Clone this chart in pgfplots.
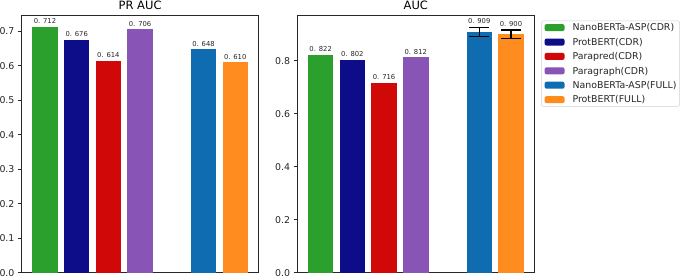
\documentclass[border=0pt]{standalone}
\usepackage{fontspec}
\setmainfont{DejaVu Sans}
\usepackage{pgfplots}
\usepackage{pgfplotstable}
\pgfplotsset{compat=1.18}
\definecolor{cgreen}{RGB}{44,160,44}
\definecolor{cnavy}{RGB}{13,13,138}
\definecolor{cred}{RGB}{208,8,8}
\definecolor{cpurple}{RGB}{136,84,182}
\definecolor{cblue}{RGB}{16,108,176}
\definecolor{corange}{RGB}{255,140,30}
\definecolor{cframe}{RGB}{40,40,40}

\pgfplotstableread[col sep=comma]{
x,y,e,lab
0,0.712,0,0. 712
1,0.676,0,0. 676
2,0.614,0,0. 614
3,0.706,0,0. 706
5,0.648,0,0. 648
6,0.610,0,0. 610
}\prauc
\pgfplotstableread[col sep=comma]{
x,y,e,lab
0,0.822,0,0. 822
1,0.802,0,0. 802
2,0.716,0,0. 716
3,0.812,0,0. 812
5,0.909,0.017,0. 909
6,0.900,0.016,0. 900
}\auc

\pgfplotsset{
  mybase/.style={
    scale only axis, width=237.2pt, height=257.7pt,
    xmin=-0.74, xmax=6.74, ymin=0,
    xtick=\empty,
    ytick pos=left,
    tick align=outside,
    major tick length=3.5pt,
    axis line style={cframe, line width=0.8pt},
    tick style={cframe, line width=0.8pt},
    /pgf/number format/assume math mode=true,
    yticklabel style={font=\fontsize{9.4}{11}\selectfont, text=black!85,
      /pgf/number format/.cd, fixed, fixed zerofill, precision=1},
    every axis title/.style={font=\fontsize{11.5}{13}\selectfont, at={(0.5,1)}, anchor=base, yshift=5.7pt, inner sep=0pt},
    every axis plot/.append style={ybar, bar width=25.4pt, bar shift=0pt, draw=none,
      point meta=explicit symbolic,
      nodes near coords,
      nodes near coords style={font=\fontsize{6.8}{8}\selectfont, text=black!85, anchor=south, inner sep=3pt},
      legend image code/.code={\fill[##1] (0pt,-3.5pt) rectangle (20pt,3.5pt);}},
  },
  pick/.style={restrict expr to domain={\coordindex}{#1:#1}},
  errb/.style={/pgfplots/error bars/y dir=both, /pgfplots/error bars/y explicit,
      /pgfplots/error bars/error mark=|,
      /pgfplots/error bars/error bar style={draw=black, line width=1.2pt},
      /pgfplots/error bars/error mark options={draw=black, line width=1.2pt, mark size=10pt}},
}

\begin{document}
\begin{tikzpicture}
\useasboundingbox (0,0) rectangle (685pt,277pt);
\begin{axis}[mybase, at={(21.5pt,4.3pt)}, anchor=south west,
  ymax=0.7476, ytick={0,0.1,...,0.7}, title={PR AUC}]
\addplot[fill=cgreen,pick=0] table[x=x,y=y,meta=lab] {\prauc};
\addplot[fill=cnavy,pick=1] table[x=x,y=y,meta=lab] {\prauc};
\addplot[fill=cred,pick=2] table[x=x,y=y,meta=lab] {\prauc};
\addplot[fill=cpurple,pick=3] table[x=x,y=y,meta=lab] {\prauc};
\addplot[fill=cblue,pick=4] table[x=x,y=y,meta=lab] {\prauc};
\addplot[fill=corange,pick=5] table[x=x,y=y,meta=lab] {\prauc};
\end{axis}
\begin{axis}[mybase, at={(297.2pt,4.3pt)}, anchor=south west,
  ymax=0.9723, ytick={0,0.2,...,0.8}, title={AUC},
  legend style={at={(1.0294,0.978)}, anchor=north west,
    font=\fontsize{9.4}{11}\selectfont, draw=black!18, rounded corners=2pt,
    inner xsep=3pt, inner ysep=2.5pt,
    column sep=8pt, row sep=5.9pt,
    nodes={inner sep=0pt, text height=7.5pt, text depth=1pt, text=black!85}},
  legend cell align=left]
\addplot[fill=cgreen,pick=0] table[x=x,y=y,meta=lab] {\auc};
\addlegendentry{NanoBERTa-ASP(CDR)}
\addplot[fill=cnavy,pick=1] table[x=x,y=y,meta=lab] {\auc};
\addlegendentry{ProtBERT(CDR)}
\addplot[fill=cred,pick=2] table[x=x,y=y,meta=lab] {\auc};
\addlegendentry{Parapred(CDR)}
\addplot[fill=cpurple,pick=3] table[x=x,y=y,meta=lab] {\auc};
\addlegendentry{Paragraph(CDR)}
\addplot[fill=cblue, errb, nodes near coords style={yshift=4.5pt},pick=4] table[x=x,y=y,y error=e,meta=lab] {\auc};
\addlegendentry{NanoBERTa-ASP(FULL)}
\addplot[fill=corange, errb, nodes near coords style={yshift=4.2pt},pick=5] table[x=x,y=y,y error=e,meta=lab] {\auc};
\addlegendentry{ProtBERT(FULL)}
\end{axis}
\end{tikzpicture}
\end{document}
